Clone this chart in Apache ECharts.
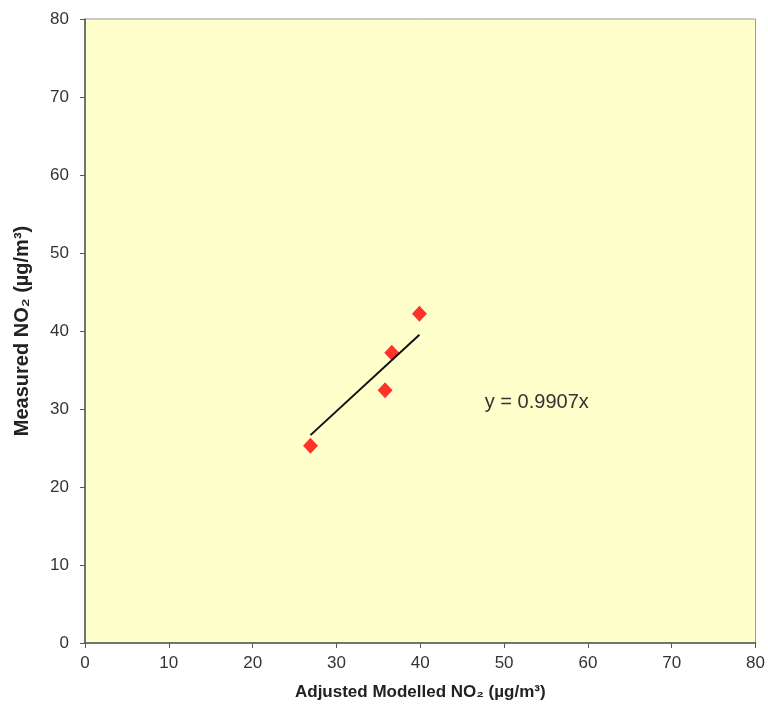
<!DOCTYPE html>
<html><head><meta charset="utf-8">
<script src="https://cdn.jsdelivr.net/npm/echarts@6/dist/echarts.min.js"></script>
<style>html,body{margin:0;padding:0;background:#fff}#c{width:768px;height:716px}</style>
</head><body><div id="c"></div>
<script>
const modelled = [26.9, 35.8, 36.6, 39.9];
const measured = [25.3, 32.4, 37.2, 42.2];
const slope = 0.9907;
const eqText = 'y = 0.9907x';
const eqPos = [47.7, 30.8];
const xTitle = 'Adjusted Modelled NO\u2082 (\u00b5g/m\u00b3)';
const yTitle = 'Measured NO\u2082 (\u00b5g/m\u00b3)';

const pts = modelled.map((x, i) => [x, measured[i]]);
const xMin = Math.min(...modelled), xMax = Math.max(...modelled);
const trend = [[xMin, slope * xMin], [xMax, slope * xMax]];

const chart = echarts.init(document.getElementById('c'));
const font = 'Liberation Sans, Arial, sans-serif';
chart.setOption({
  backgroundColor: '#fff',
  animation: false,
  grid: {left: 85, right: 12, top: 19, bottom: 73, show: true, backgroundColor: '#FFFFCC', borderColor: '#999', borderWidth: 1},
  xAxis: {
    type: 'value', min: 0, max: 80, interval: 10,
    name: xTitle, nameLocation: 'middle', nameGap: 41,
    nameTextStyle: {fontFamily: font, fontWeight: 'bold', fontSize: 17, color: '#222'},
    axisLine: {lineStyle: {color: '#555', width: 1.5}},
    axisTick: {show: true, length: 5, lineStyle: {color: '#555'}},
    axisLabel: {fontFamily: font, fontSize: 17, color: '#333', margin: 12},
    splitLine: {show: false}
  },
  yAxis: {
    type: 'value', min: 0, max: 80, interval: 10,
    name: yTitle, nameLocation: 'middle', nameGap: 53, nameRotate: 90,
    nameTextStyle: {fontFamily: font, fontWeight: 'bold', fontSize: 20, color: '#222'},
    axisLine: {show: true, lineStyle: {color: '#555', width: 1.5}},
    axisTick: {show: true, length: 5, lineStyle: {color: '#555'}},
    axisLabel: {fontFamily: font, fontSize: 17, color: '#333', margin: 16},
    splitLine: {show: false}
  },
  series: [
    {
      type: 'line', data: trend, symbol: 'none',
      lineStyle: {color: '#111', width: 2},
      markPoint: {
        symbol: 'circle', symbolSize: 0,
        data: [{coord: eqPos}],
        label: {show: true, formatter: eqText, position: 'right', distance: 0,
          fontFamily: font, fontSize: 20, color: '#333'}
      }
    },
    {
      type: 'scatter', data: pts, symbol: 'diamond', symbolSize: [15, 16],
      itemStyle: {color: '#FF0000'}
    }
  ]
});
</script></body></html>
